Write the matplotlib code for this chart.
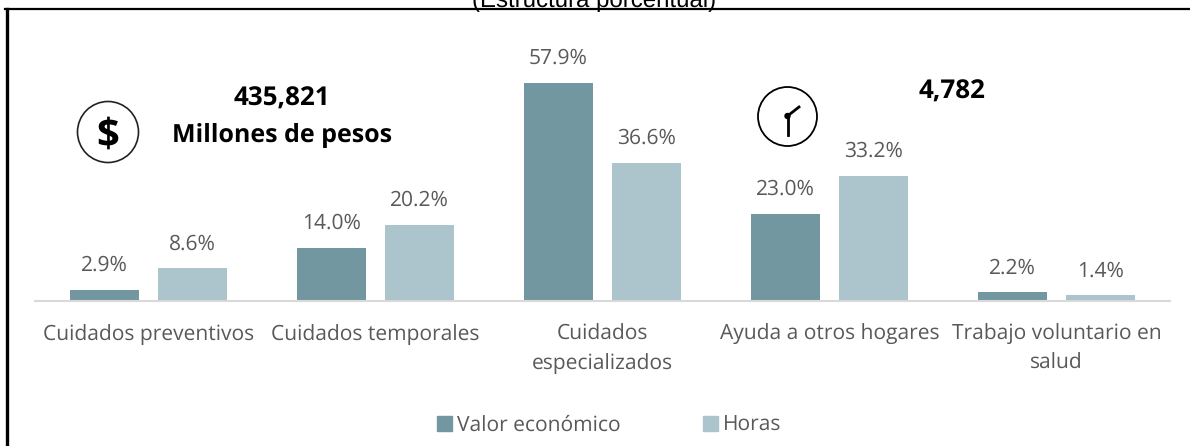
from matplotlib import pyplot as plt
from matplotlib.lines import Line2D
from matplotlib.patches import Circle, Patch

categories = ["Cuidados preventivos", "Cuidados temporales", "Cuidados\nespecializados",
              "Ayuda a otros hogares", "Trabajo voluntario en\nsalud"]
valor = [2.9, 14.0, 57.9, 23.0, 2.2]
horas = [8.6, 20.2, 36.6, 33.2, 1.4]

W, H = 1190, 446
dark = '#7397A1'
light = '#ACC4CC'
grey = '#595959'
plt.rcParams['font.family'] = ['Open Sans', 'DejaVu Sans']
plt.rcParams['text.hinting'] = 'no_hinting'
plt.rcParams['text.hinting_factor'] = 1

fig = plt.figure(figsize=(W / 100, H / 100), dpi=100)

# helper: pixel box -> figure fraction
def box(x0, y0, x1, y1):
    return [x0 / W, 1 - y1 / H, (x1 - x0) / W, (y1 - y0) / H]

ax = fig.add_axes(box(35, 60, 1170, 300.5))
x = list(range(len(categories)))
off = 44 / 227
bw = 69 / 227
b1 = ax.bar([i - off for i in x], valor, bw, color=dark, label="Valor económico")
b2 = ax.bar([i + off for i in x], horas, bw, color=light, label="Horas")
ax.bar_label(b1, labels=[f"{v:.1f}%" for v in valor], padding=10, fontsize=14.8, color=grey)
ax.bar_label(b2, labels=[f"{v:.1f}%" for v in horas], padding=10, fontsize=14.8, color=grey)

ax.set_xlim(-0.5, 4.5)
ax.set_ylim(0, 240.5 / 3.756)
ax.set_xticks(x)
ax.set_xticklabels(categories, fontsize=14.8, color=grey, linespacing=1.5, va='top')
ax.tick_params(axis='x', length=0, pad=17)
ax.set_yticks([])
for s in ['top', 'left', 'right']:
    ax.spines[s].set_visible(False)
ax.spines['bottom'].set_color('#D9D9D9')
ax.spines['bottom'].set_linewidth(1.5)
ax.patch.set_alpha(0)

# overlay in pixel coordinates for frame, icons and texts
ov = fig.add_axes([0, 0, 1, 1], zorder=5)
ov.set_xlim(0, W)
ov.set_ylim(H, 0)
ov.axis('off')

ov.add_line(Line2D([6.5, 6.5], [9, H], color='black', lw=2.4))
ov.add_line(Line2D([5, W], [9, 9], color='black', lw=1.6))
ov.text(594, 1, "(Estructura porcentual)", ha='center', va='center', fontsize=17.3,
        family='Liberation Sans', color='black', clip_on=False)

ov.text(282, 99, "435,821", ha='center', va='center', fontsize=19, fontweight='bold', color='black')
ov.text(282, 136, "Millones de pesos", ha='center', va='center', fontsize=17.8, fontweight='bold', color='black')
ov.text(952, 92, "4,782", ha='center', va='center', fontsize=19, fontweight='bold', color='black')

# dollar icon
ov.add_patch(Circle((108, 132), 30.5, fill=False, ec='#222222', lw=1.2))
ov.text(108, 136, "$", ha='center', va='center', fontsize=29, fontweight='bold', color='black')

# clock icon
ov.add_patch(Circle((787.5, 116.5), 29.5, fill=False, ec='black', lw=1.3))
ov.add_line(Line2D([787.5, 787.5], [116, 135], color='black', lw=2))
ov.add_line(Line2D([787.5, 799], [116, 107], color='black', lw=2))
ov.add_patch(Circle((787.5, 116), 2.5, color='black'))

# legend
handles = [Patch(color=dark), Patch(color=light)]
ov.legend(handles, ["Valor económico", "Horas"], ncol=2, loc='center', bbox_to_anchor=(609.5, 425),
          bbox_transform=ov.transData, frameon=False, fontsize=14.8, labelcolor=grey,
          handlelength=0.72, handleheight=0.72, handletextpad=0.25, columnspacing=4.0)

fig.savefig('out.png', dpi=100)
